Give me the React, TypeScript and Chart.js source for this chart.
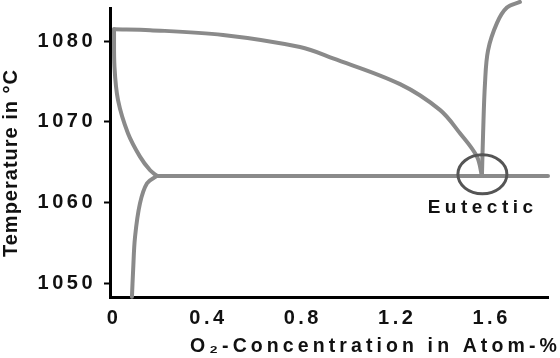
import React, { useEffect, useRef } from "react";
import { Chart, registerables } from "chart.js";

Chart.register(...registerables);

// ---- axis ticks ----
const xTickValues = [0, 0.4, 0.8, 1.2, 1.6];
const xTickLabels = ["0", "0.4", "0.8", "1.2", "1.6"];
const yTickValues = [1050, 1060, 1070, 1080];
const yTickLabels = ["1050", "1060", "1070", "1080"];
const X_MIN = -0.017;
const X_MAX = 1.839;
const Y_MIN = 1048.27;
const Y_MAX = 1084.15;

// ---- curves (O2 concentration in atom-%, temperature in °C) ----
const liquidusX = [0, 0.153, 0.462, 0.788, 0.928, 1.212, 1.381, 1.466, 1.538, 1.559];
const liquidusT = [1081.5, 1081.4, 1080.8, 1079.3, 1077.9, 1074.7, 1071.5, 1068.6, 1065.7, 1063.3];

const oxideLiquidusX = [1.559, 1.564, 1.572, 1.585, 1.623, 1.665, 1.72];
const oxideLiquidusT = [1063.3, 1068.6, 1074.8, 1078.9, 1082.3, 1084.2, 1084.9];

const solidusX = [0, 0.002, 0.017, 0.059, 0.11, 0.153, 0.182];
const solidusT = [1081.5, 1076.8, 1072.7, 1068.6, 1065.7, 1064.0, 1063.3];

const eutecticLineX = [0.182, 1.839];
const eutecticLineT = [1063.3, 1063.3];

const solvusX = [0.182, 0.14, 0.11, 0.089, 0.081, 0.076];
const solvusT = [1063.3, 1062.4, 1059.9, 1055.7, 1051.6, 1048.3];

const eutecticPointX = 1.561;
const eutecticPointT = 1063.5;
const eutecticLabel = "Eutectic";
const xTitle = "O₂-Concentration in Atom-%";
const yTitle = "Temperature in °C";

const FONT = '"Liberation Sans", Arial, Helvetica, sans-serif';
const LINE_COLOR = "#8a8a8a";

const toPoints = (xs: number[], ys: number[]) => xs.map((x, i) => ({ x, y: ys[i] }));

const decorPlugin = {
  id: "decor",
  beforeDraw(chart: any) {
    chart.ctx.letterSpacing = "3.5px";
  },
  beforeDatasetsDraw(chart: any) {
    chart.ctx.letterSpacing = "0px";
  },
  afterDraw(chart: any) {
    const { ctx, scales } = chart;
    const xs = scales.x;
    const ys = scales.y;
    const area = chart.chartArea;
    ctx.save();
    const cx = xs.getPixelForValue(eutecticPointX);
    const cy = ys.getPixelForValue(eutecticPointT);
    ctx.beginPath();
    ctx.ellipse(cx, cy, 24.5, 19.5, 0, 0, Math.PI * 2);
    ctx.strokeStyle = "#555555";
    ctx.lineWidth = 3;
    ctx.stroke();

    ctx.fillStyle = "#111111";
    ctx.font = `bold 19px ${FONT}`;
    ctx.textBaseline = "middle";
    ctx.letterSpacing = "4.5px";
    ctx.textAlign = "center";
    ctx.fillText(eutecticLabel, cx + 0.25, cy + 33);

    ctx.letterSpacing = "4.1px";
    ctx.font = `bold 19.5px ${FONT}`;
    ctx.textAlign = "left";
    ctx.fillText(xTitle, area.left + 80, 347);

    ctx.translate(11, 163);
    ctx.rotate(-Math.PI / 2);
    ctx.font = `bold 20px ${FONT}`;
    ctx.letterSpacing = "1px";
    ctx.textAlign = "center";
    ctx.fillText(yTitle, 0, 0);
    ctx.restore();
    ctx.letterSpacing = "0px";
  },
};

export default function App() {
  const ref = useRef<HTMLCanvasElement>(null);
  useEffect(() => {
    const canvas = ref.current!;
    const lineDs = (label: string, xs: number[], ys: number[], tension: number) => ({
      label,
      data: toPoints(xs, ys),
      showLine: true,
      borderColor: LINE_COLOR,
      backgroundColor: LINE_COLOR,
      borderWidth: 4,
      pointRadius: 0,
      tension,
      clip: false as any,
    });
    const chart = new Chart(canvas, {
      type: "scatter",
      data: {
        datasets: [
          lineDs("liquidus", liquidusX, liquidusT, 0.35),
          lineDs("oxide liquidus", oxideLiquidusX, oxideLiquidusT, 0.35),
          lineDs("solidus", solidusX, solidusT, 0.35),
          lineDs("eutectic", eutecticLineX, eutecticLineT, 0),
          lineDs("solvus", solvusX, solvusT, 0.35),
        ] as any,
      },
      options: {
        responsive: false,
        animation: false,
        devicePixelRatio: 1,
        elements: { line: { capBezierPoints: false, borderCapStyle: "round", borderJoinStyle: "round" } },
        layout: { autoPadding: false, padding: { top: 8, right: 12, left: 0, bottom: 0 } },
        plugins: { legend: { display: false }, tooltip: { enabled: false } },
        scales: {
          x: {
            type: "linear",
            min: X_MIN,
            max: X_MAX,
            afterFit: (s: any) => {
              s.height = 61;
              s.paddingLeft = 0;
              s.paddingRight = 0;
              s.paddingTop = 0;
              s.paddingBottom = 0;
            },
            afterBuildTicks: (s: any) => {
              s.ticks = xTickValues.map((v) => ({ value: v }));
            },
            ticks: {
              callback: (v: any) => xTickLabels[xTickValues.indexOf(Number(v))] ?? "",
              font: { family: FONT, size: 20, weight: "bold" },
              color: "#111111",
              padding: 9,
              maxRotation: 0,
              autoSkip: false,
            },
            grid: { display: false, drawTicks: false },
            border: { display: true, color: "#000000", width: 3 },
          },
          y: {
            type: "linear",
            min: Y_MIN,
            max: Y_MAX,
            afterFit: (s: any) => {
              s.width = 110;
              s.paddingLeft = 0;
              s.paddingRight = 0;
              s.paddingTop = 0;
              s.paddingBottom = 0;
            },
            afterBuildTicks: (s: any) => {
              s.ticks = yTickValues.map((v) => ({ value: v }));
            },
            ticks: {
              callback: (v: any) => yTickLabels[yTickValues.indexOf(Number(v))] ?? "",
              font: { family: FONT, size: 20, weight: "bold" },
              color: "#111111",
              padding: 8,
              autoSkip: false,
            },
            grid: {
              display: true,
              drawOnChartArea: false,
              drawTicks: true,
              tickLength: 6,
              tickWidth: 2,
              tickColor: "#000000",
            },
            border: { display: true, color: "#000000", width: 3 },
          },
        },
      } as any,
      plugins: [decorPlugin],
    });
    return () => chart.destroy();
  }, []);
  return (
    <div style={{ position: "fixed", left: 0, top: 0, width: 560, height: 358, background: "#ffffff" }}>
      <canvas ref={ref} width={560} height={358} style={{ display: "block", width: 560, height: 358 }} />
    </div>
  );
}
